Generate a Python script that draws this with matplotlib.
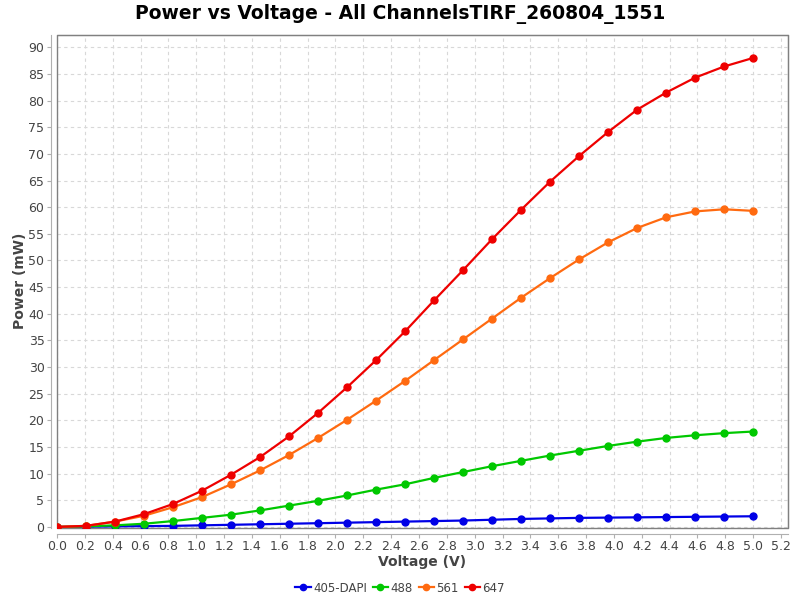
import matplotlib
matplotlib.use("Agg")
import matplotlib.pyplot as plt
import numpy as np
from matplotlib.patches import Rectangle

TITLE = "Power vs Voltage - All ChannelsTIRF_260804_1551"

voltage = [0.0, 0.208, 0.417, 0.625, 0.833, 1.042, 1.25, 1.458, 1.667, 1.875,
           2.083, 2.292, 2.5, 2.708, 2.917, 3.125, 3.333, 3.542, 3.75, 3.958,
           4.167, 4.375, 4.583, 4.792, 5.0]

power_405 = [0.0, 0.05, 0.1, 0.15, 0.2, 0.3, 0.4, 0.5, 0.6, 0.7,
             0.8, 0.9, 1.0, 1.1, 1.2, 1.35, 1.5, 1.6, 1.7, 1.75,
             1.8, 1.85, 1.9, 1.95, 2.0]
power_488 = [0.0, 0.1, 0.3, 0.6, 1.1, 1.7, 2.3, 3.1, 4.0, 4.9,
             5.9, 7.0, 8.0, 9.2, 10.3, 11.4, 12.4, 13.4, 14.3, 15.2,
             16.0, 16.7, 17.2, 17.6, 17.9]
power_561 = [0.0, 0.2, 1.0, 2.1, 3.7, 5.6, 8.0, 10.6, 13.5, 16.7,
             20.1, 23.7, 27.4, 31.3, 35.2, 39.1, 43.0, 46.7, 50.2, 53.4,
             56.1, 58.1, 59.2, 59.6, 59.3]
power_647 = [0.0, 0.2, 1.0, 2.4, 4.3, 6.8, 9.8, 13.1, 17.0, 21.4,
             26.2, 31.3, 36.7, 42.5, 48.2, 54.0, 59.5, 64.8, 69.6, 74.1,
             78.3, 81.5, 84.3, 86.4, 88.0]

series = [
    ("405-DAPI", power_405, "#0000E6"),
    ("488", power_488, "#00C800"),
    ("561", power_561, "#FF6A10"),
    ("647", power_647, "#EE0000"),
]

fig = plt.figure(figsize=(8, 6), dpi=100)
ax = fig.add_axes([57 / 800, 1 - 528 / 600, (788 - 57) / 800, (528 - 35) / 600])

for label, values, color in series:
    ax.plot(voltage, values, color=color, linewidth=1.6, marker="o",
            markersize=5, label=label)

ax.set_xlim(0, 5.25)
ax.set_ylim(-0.2, 92.3)
ax.set_xticks(np.arange(0, 5.21, 0.2))
ax.set_xticklabels([f"{v:.1f}" for v in np.arange(0, 5.21, 0.2)])
ax.set_yticks(np.arange(0, 91, 5))
ax.grid(True, color="#d8d8d8", linestyle=(0, (3, 3)), linewidth=0.8)
ax.set_axisbelow(True)

for side in ["top", "right"]:
    ax.spines[side].set_color("#808080")
for side in ["left", "bottom"]:
    ax.spines[side].set_position(("outward", 4))
    ax.spines[side].set_color("#b0b0b0")
ax.add_patch(Rectangle((0, 0), 1, 1, transform=ax.transAxes, fill=False,
                       edgecolor="#808080", linewidth=1.0, clip_on=False))

ax.tick_params(axis="both", labelsize=9, colors="#b0b0b0",
               labelcolor="#444444", length=3, width=0.8, pad=2)

fig.text(422 / 800, 1 - 562 / 600, "Voltage (V)", fontsize=10,
         fontweight="bold", color="#444444", ha="center", va="center")
fig.text(20 / 800, 1 - 281 / 600, "Power (mW)", fontsize=10,
         fontweight="bold", color="#444444", ha="center", va="center",
         rotation=90)
fig.text(0.5, 1 - 14 / 600, TITLE, fontsize=13.5, fontweight="bold",
         ha="center", va="center")

fig.legend(loc="center", bbox_to_anchor=(0.5, 1 - 588 / 600), ncol=4,
           frameon=False, fontsize=8.5, handlelength=1.3, handletextpad=0.2,
           columnspacing=0.5, labelcolor="#444444", markerscale=0.9)

fig.savefig("out.png", dpi=100)
